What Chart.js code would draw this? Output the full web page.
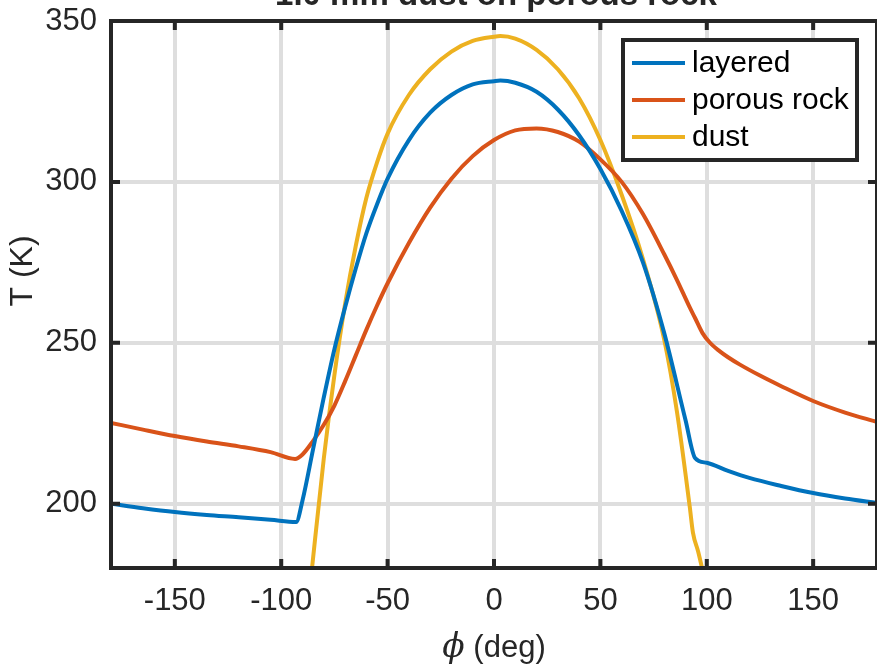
<!DOCTYPE html>
<html>
<head>
<meta charset="utf-8">
<script src="https://cdn.jsdelivr.net/npm/chart.js@4.4.0/dist/chart.umd.min.js"></script>
<style>
  html, body { margin: 0; padding: 0; background: #fff; overflow: hidden; }
  #wrap { position: relative; width: 877px; height: 664px; }
</style>
</head>
<body>
<div id="wrap"><canvas id="tempChart" width="877" height="664"></canvas></div>
<script>
// axis ticks
const xTicks = [-150, -100, -50, 0, 50, 100, 150];
const yTicks = [200, 250, 300, 350];

// layered
const phiLayered = [-180, -165, -150, -135, -120, -105, -93, -90, -85, -80, -75, -70, -65, -60, -55, -50, -40, -30, -20, -10, 0, 3, 10, 20, 30, 40, 50, 60, 70, 80, 90, 94.5, 100, 110, 120, 135, 150, 165, 180];
const tLayered = [200, 198.6, 197.4, 196.5, 195.8, 195, 194.3, 201, 217, 233, 248, 261, 273, 284, 293, 301, 313, 321.5, 327, 330.3, 331.3, 331.5, 330.8, 328, 322.5, 314.5, 304, 291, 275, 253, 226, 214.2, 212.7, 210.2, 208, 205.5, 203.3, 201.6, 200.2];

// porous rock
const phiRock = [-180, -165, -150, -135, -120, -105, -93.5, -90, -85, -80, -75, -70, -65, -60, -55, -50, -40, -30, -20, -10, 0, 10, 20, 30, 40, 50, 60, 70, 80, 86, 92, 94.5, 98, 101.5, 106, 110, 115.6, 125, 135, 150, 165, 180];
const tRock = [225.1, 223, 221, 219.3, 217.8, 216, 213.9, 215.3, 219.5, 224.5, 230.5, 238, 246, 254, 261.5, 268.5, 281, 292, 301, 308, 313, 316, 316.6, 315.5, 312.5, 307, 300, 290, 277.5, 269.5, 261, 257.7, 253, 250, 247.4, 245.5, 243.2, 239.8, 236.5, 231.9, 228.3, 225.4];

// dust
const phiDust = [-86, -80, -75, -70, -65, -60, -55, -50, -40, -30, -20, -10, 0, 3, 10, 20, 30, 40, 50, 60, 70, 80, 86, 92, 93.5, 96, 98.8];
const tDust = [177, 214, 240, 262, 280, 295, 306, 315, 327, 335, 340.5, 343.8, 345.1, 345.3, 344.5, 341, 335, 326, 313, 296, 276, 251, 228.5, 199, 191, 185, 177];

const FONT = '"Liberation Sans", Arial, Helvetica, sans-serif';
const INK = '#262626';

function pts(xs, ys) {
    return xs.map((x, i) => ({ x: x, y: ys[i] }));
}

// box, inward ticks, axis labels, title
const framePlugin = {
    id: 'frame',
    afterDatasetsDraw(chart) {
        const ctx = chart.ctx;
        const a = chart.chartArea;
        const xs = chart.scales.x;
        const ys = chart.scales.y;
        ctx.save();
        ctx.strokeStyle = INK;
        ctx.lineWidth = 4;
        ctx.beginPath();
        xTicks.forEach(v => {
            const p = xs.getPixelForValue(v);
            ctx.moveTo(p, a.top); ctx.lineTo(p, a.top + 9);
            ctx.moveTo(p, a.bottom); ctx.lineTo(p, a.bottom - 9);
        });
        yTicks.forEach(v => {
            const p = ys.getPixelForValue(v);
            ctx.moveTo(a.left, p); ctx.lineTo(a.left + 9, p);
            ctx.moveTo(a.right, p); ctx.lineTo(a.right - 9, p);
        });
        ctx.stroke();
        ctx.strokeRect(a.left, a.top, a.right - a.left, a.bottom - a.top);

        ctx.fillStyle = INK;
        // title (cropped at the top edge)
        ctx.font = 'bold 33px ' + FONT;
        ctx.textAlign = 'center';
        ctx.textBaseline = 'alphabetic';
        ctx.fillText('1.0 mm dust on porous rock', 496, 5);

        // x label: italic phi + (deg)
        ctx.textAlign = 'left';
        ctx.font = 'italic 33px "DejaVu Serif", "Liberation Serif", serif';
        const phiW = ctx.measureText('\u03D5').width;
        ctx.font = '31px ' + FONT;
        const restW = ctx.measureText(' (deg)').width;
        const x0 = 494 - (phiW + restW) / 2;
        ctx.font = 'italic 33px "DejaVu Serif", "Liberation Serif", serif';
        ctx.fillText('\u03D5', x0, 657);
        ctx.font = '31px ' + FONT;
        ctx.fillText(' (deg)', x0 + phiW, 657);

        // y label
        ctx.translate(32, 271);
        ctx.rotate(-Math.PI / 2);
        ctx.textAlign = 'center';
        ctx.font = '32px ' + FONT;
        ctx.fillText('T (K)', 0, 0);
        ctx.restore();
    }
};

const legendPlugin = {
    id: 'boxLegend',
    afterDraw(chart) {
        const ctx = chart.ctx;
        const left = 623, top = 40, w = 234, h = 120;
        ctx.save();
        ctx.fillStyle = '#ffffff';
        ctx.fillRect(left, top, w, h);
        ctx.strokeStyle = INK;
        ctx.lineWidth = 4;
        ctx.strokeRect(left, top, w, h);
        ctx.font = '30px ' + FONT;
        ctx.textBaseline = 'middle';
        ctx.textAlign = 'left';
        chart.data.datasets.forEach((ds, i) => {
            const y = 63 + i * 37;
            ctx.strokeStyle = ds.borderColor;
            ctx.lineWidth = 4;
            ctx.beginPath();
            ctx.moveTo(632, y);
            ctx.lineTo(685, y);
            ctx.stroke();
            ctx.fillStyle = '#000000';
            ctx.fillText(ds.label, 692, y + 1);
        });
        ctx.restore();
    }
};

const ctx = document.getElementById('tempChart').getContext('2d');
new Chart(ctx, {
    type: 'line',
    data: {
        datasets: [
            { label: 'layered', data: pts(phiLayered, tLayered), borderColor: '#0072BD' },
            { label: 'porous rock', data: pts(phiRock, tRock), borderColor: '#D95319' },
            { label: 'dust', data: pts(phiDust, tDust), borderColor: '#EDB120' }
        ]
    },
    options: {
        responsive: false,
        animation: false,
        devicePixelRatio: 1,
        layout: { padding: { top: 21, right: 0, bottom: 0, left: 0 } },
        elements: {
            line: { borderWidth: 4, cubicInterpolationMode: 'monotone', fill: false },
            point: { radius: 0 }
        },
        plugins: {
            legend: { display: false },
            tooltip: { enabled: false },
            title: { display: false }
        },
        scales: {
            x: {
                type: 'linear',
                min: -180,
                max: 180,
                afterBuildTicks: s => { s.ticks = xTicks.map(v => ({ value: v })); },
                afterFit: s => { s.height = 96; s.paddingLeft = 0; s.paddingRight = 0; },
                grid: { color: '#dedede', lineWidth: 4, drawTicks: false },
                border: { display: false },
                ticks: { color: INK, font: { family: FONT, size: 31 }, padding: 15, maxRotation: 0 }
            },
            y: {
                type: 'linear',
                min: 180,
                max: 350,
                afterBuildTicks: s => { s.ticks = yTicks.map(v => ({ value: v })); },
                afterFit: s => { s.width = 111; s.paddingTop = 0; s.paddingBottom = 0; },
                grid: { color: '#dedede', lineWidth: 4, drawTicks: false },
                border: { display: false },
                ticks: { color: INK, font: { family: FONT, size: 31 }, padding: 14 }
            }
        }
    },
    plugins: [framePlugin, legendPlugin]
});
</script>
</body>
</html>
